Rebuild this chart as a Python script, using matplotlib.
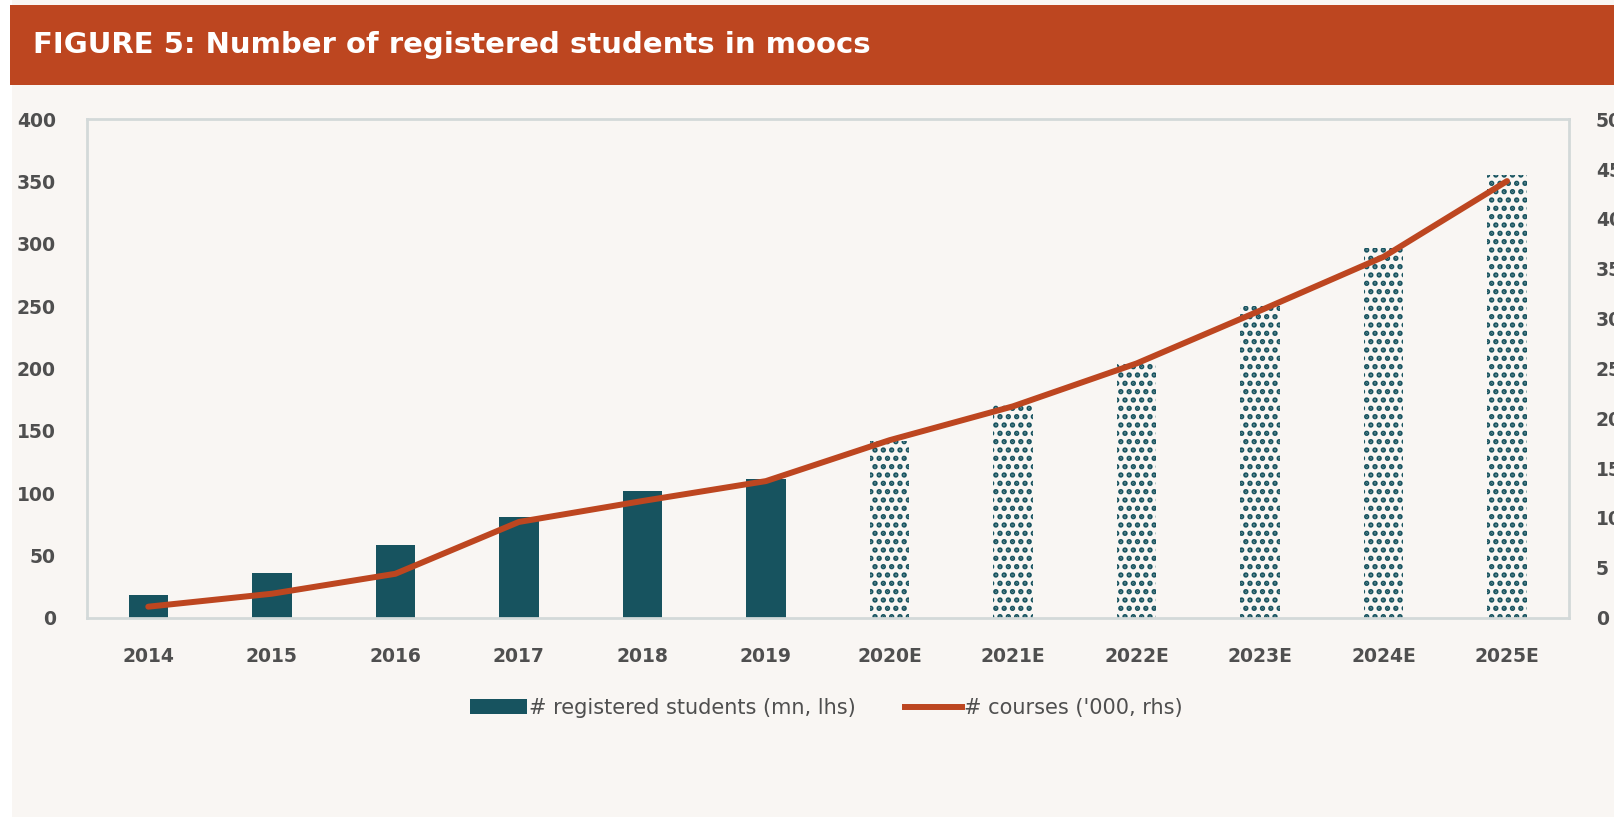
import matplotlib.pyplot as plt
from matplotlib.patches import Rectangle, Patch
from matplotlib.lines import Line2D
import numpy as np

# data
years = ['2014', '2015', '2016', '2017', '2018', '2019',
         '2020E', '2021E', '2022E', '2023E', '2024E', '2025E']
students_mn = [18, 36, 58, 81, 102, 111, 142, 171, 205, 250, 297, 355]
courses_k = [1.1, 2.4, 4.4, 9.6, 11.7, 13.7, 17.8, 21.2, 25.5, 30.8, 36.2, 43.8]
n_actual = 6  # first six years are actuals, the rest are estimates

teal = '#17535F'
orange = '#BD4620'
bg = '#F9F6F3'
label_grey = '#4F4F4F'
font = ['DejaVu Sans']

plt.rcParams['hatch.linewidth'] = 2.6

fig = plt.figure(figsize=(16.14, 8.17), dpi=100)
fig.patch.set_facecolor('white')

# off-white panel and orange header band
fig.patches.append(Rectangle((12 / 1614, 0), 1, 1, transform=fig.transFigure,
                             facecolor=bg, edgecolor='none', zorder=-10))
fig.patches.append(Rectangle((10 / 1614, 1 - 85 / 817), 1, 80 / 817, transform=fig.transFigure,
                             facecolor=orange, edgecolor='none', zorder=-5))
fig.text(33 / 1614, 1 - 45 / 817, 'FIGURE 5: Number of registered students in moocs',
         color='white', fontsize=21, fontweight='bold', va='center', ha='left', family=font)

ax = fig.add_axes([0.0536, 0.244, 0.9184, 0.61])
ax.set_facecolor(bg)
x = np.arange(len(years))

ax.bar(x[:n_actual], students_mn[:n_actual], width=0.32, color=teal, zorder=2)
ax.bar(x[n_actual:], students_mn[n_actual:], width=0.32, facecolor=bg, edgecolor=teal,
       linewidth=0, hatch='..', zorder=2)

ax.set_xlim(-0.5, len(years) - 0.5)
ax.set_ylim(0, 400)
ax.set_yticks(range(0, 401, 50))
ax.set_xticks(x)
ax.set_xticklabels(years)

for side in ax.spines.values():
    side.set_color('#D3D9D9')
    side.set_linewidth(2)

ax2 = ax.twinx()
ax2.plot(x, courses_k, color=orange, linewidth=4.3, zorder=3, solid_capstyle='round')
ax2.set_ylim(0, 50)
ax2.set_yticks(range(0, 51, 5))
for side in ax2.spines.values():
    side.set_visible(False)

ax.tick_params(axis='both', length=0, labelsize=13.5, labelcolor=label_grey)
ax.tick_params(axis='y', pad=22)
ax.tick_params(axis='x', pad=21)
ax2.tick_params(axis='y', length=0, labelsize=13.5, labelcolor=label_grey, pad=19.5)
for lab in ax.get_xticklabels() + ax.get_yticklabels() + ax2.get_yticklabels():
    lab.set_family(font)
    lab.set_fontweight('bold')

handles = [Patch(facecolor=teal, edgecolor='none'),
           Line2D([0], [0], color=orange, linewidth=4.3)]
labels = ['# registered students (mn, lhs)', "# courses ('000, rhs)"]
fig.legend(handles, labels, loc='center', bbox_to_anchor=(0.512, 1 - 708 / 817), ncol=2,
           frameon=False, handlelength=2.7, handletextpad=0.1, columnspacing=2.4,
           prop={'family': font, 'size': 15}, labelcolor=label_grey)

plt.savefig('out.png', dpi=100, facecolor=fig.get_facecolor())
